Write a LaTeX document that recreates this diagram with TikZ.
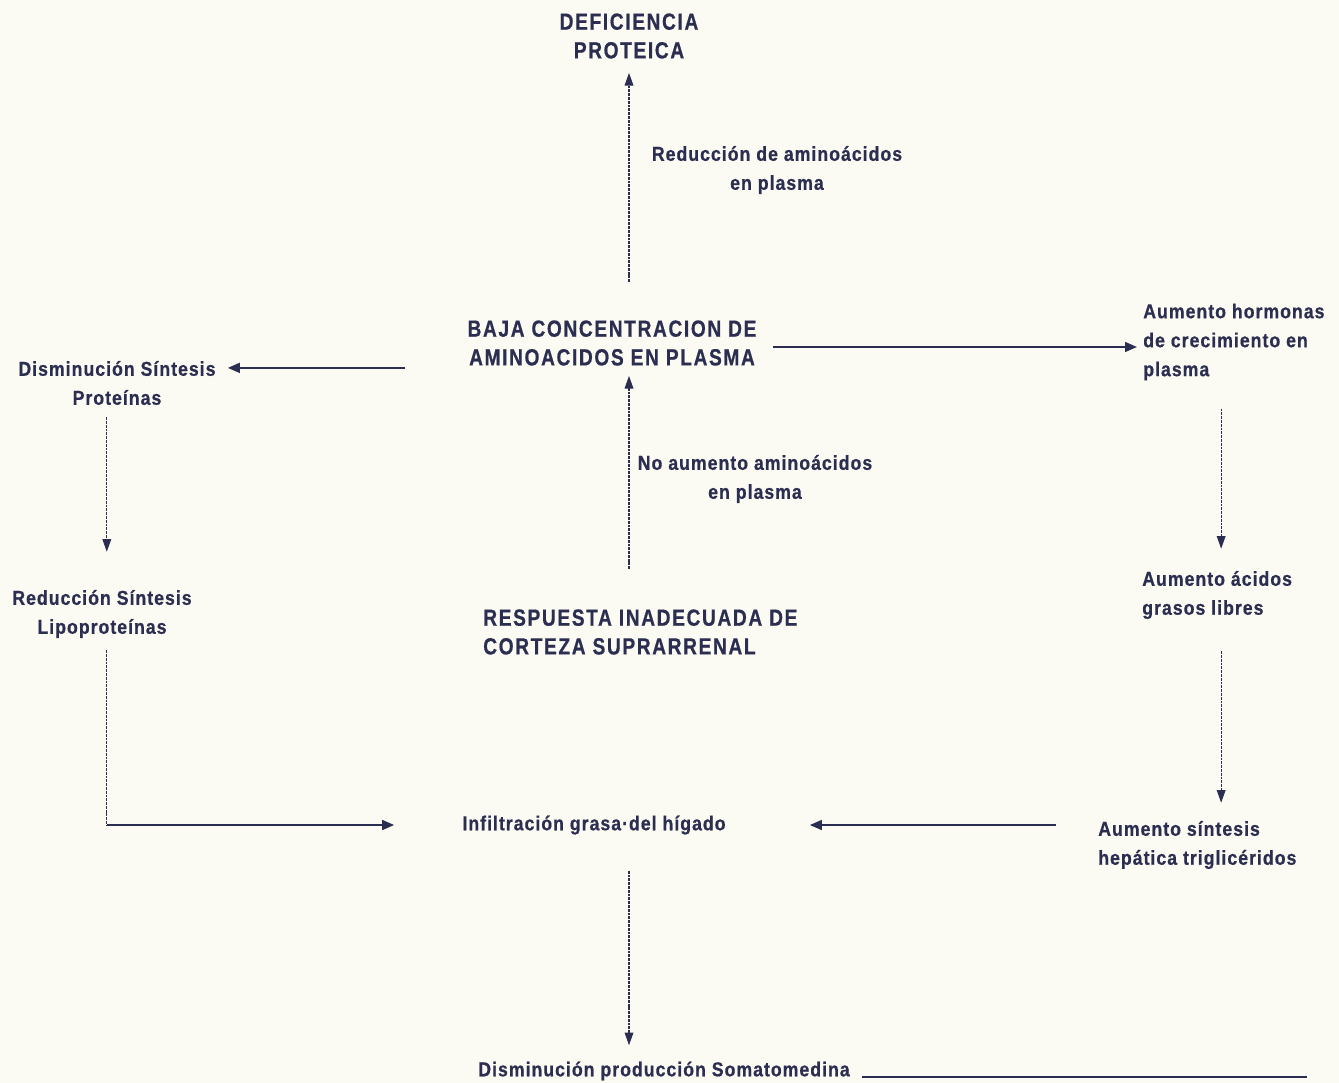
\documentclass[tikz,border=0pt]{standalone}
\usepackage{fontspec}
\usepackage{tikz}
\usetikzlibrary{positioning,arrows.meta}
\setmainfont{Liberation Sans}
\newfontfamily\esqfont{Liberation Sans}[FakeStretch=0.88,LetterSpace=5,FakeBold=0.6]
\newfontfamily\mayfont{Liberation Sans}[FakeStretch=0.82,LetterSpace=7,FakeBold=0.6]
\definecolor{tinta}{HTML}{2B2E50}
\definecolor{papel}{HTML}{FCFBF3}

\begin{document}
\begin{tikzpicture}[
  x=0.025cm, y=-0.025cm,
  txt/.style={inner sep=0pt, align=center, text=tinta, font=\esqfont\bfseries\fontsize{14.3}{20.6}\selectfont},
  mayus/.style={txt, font=\mayfont\bfseries\fontsize{16.6}{20.4}\selectfont},
  flecha/.style={-{Triangle[length=8.5pt,width=7pt]}, line width=1.3pt, color=tinta},
  punteada/.style={-{Triangle[length=9pt,width=6.2pt]}, line width=0.75pt, color=tinta, dash pattern=on 2pt off 0.7pt},
  linea/.style={line width=0.75pt, color=tinta, dash pattern=on 2pt off 0.7pt}
]
\useasboundingbox[fill=papel] (0,0) rectangle (1339,1083);

% centro
\node[mayus] (defi) at (629,36) {DEFICIENCIA\\PROTEICA};
\node[txt] (redam) at (777,170) {Reducción de aminoácidos\\en plasma};
\node[mayus] (baja) at (612,343) {BAJA CONCENTRACION DE\\AMINOACIDOS EN PLASMA};
\node[txt] (noaum) at (755,479) {No aumento aminoácidos\\en plasma};
\node[mayus, align=left, anchor=west] (resp) at (483,632) {RESPUESTA INADECUADA DE\\CORTEZA SUPRARRENAL};
\node[txt] (infil) at (594,825) {Infiltración grasa·del hígado};
\node[txt] (dismso) at (664,1071) {Disminución producción Somatomedina};

% izquierda
\node[txt] (dissp) at (117,383) {Disminución Síntesis\\Proteínas};
\node[txt] (redsl) at (102,614) {Reducción Síntesis\\Lipoproteínas};

% derecha
\node[txt, align=left, anchor=west] (aumhc) at (1143,342) {Aumento hormonas\\de crecimiento en\\plasma};
\node[txt, align=left, anchor=west] (aumag) at (1142,595) {Aumento ácidos\\grasos libres};
\node[txt, align=left, anchor=west] (aumst) at (1098,845) {Aumento síntesis\\hepática triglicéridos};
\coordinate (cont) at (1307,1077);

\draw[punteada, shorten <=0.95cm, shorten >=0.35cm] (baja.north -| defi) -- (defi.south);
\draw[punteada, shorten <=1cm, shorten >=0.25cm] (resp.north -| defi) -- (baja.south -| defi);
\draw[flecha, shorten <=1.55cm, shorten >=0.3cm] ([yshift=-0.05cm]baja.south west) -- ([yshift=-0.05cm]baja.south -| dissp.east);
\draw[flecha, shorten <=0.4cm, shorten >=0.15cm] ([yshift=-0.1cm]baja.east) -- ([yshift=-0.1cm]baja.east -| aumhc.west);
\draw[punteada, shorten <=0.3cm, shorten >=0.95cm] ([xshift=0.12cm]redsl.north |- dissp.south) -- ([xshift=0.12cm]redsl.north);
\draw[linea, shorten <=0.3cm] ([xshift=0.12cm]redsl.south) -- ([xshift=0.12cm]redsl.south |- infil.west);
\draw[flecha, shorten >=1.7cm] ([xshift=0.12cm]redsl.south |- infil.west) -- (infil.west);
\draw[punteada, shorten <=0.7cm, shorten >=0.55cm] ([xshift=0.1cm]aumhc.south -| aumag.north) -- ([xshift=0.1cm]aumag.north);
\draw[punteada, shorten <=0.8cm, shorten >=0.45cm] ([xshift=0.1cm]aumag.south) -- ([xshift=0.1cm]aumag.south |- aumst.north);
\draw[flecha, shorten <=1.05cm, shorten >=2.1cm] (aumst.west |- infil.east) -- (infil.east);
\draw[punteada, shorten <=0.9cm, shorten >=0.4cm] (infil.south -| defi) -- (dismso.north -| defi);
\draw[color=tinta, line width=1.3pt, shorten <=0.3cm] (dismso.east |- cont) -- (cont);
\end{tikzpicture}
\end{document}
